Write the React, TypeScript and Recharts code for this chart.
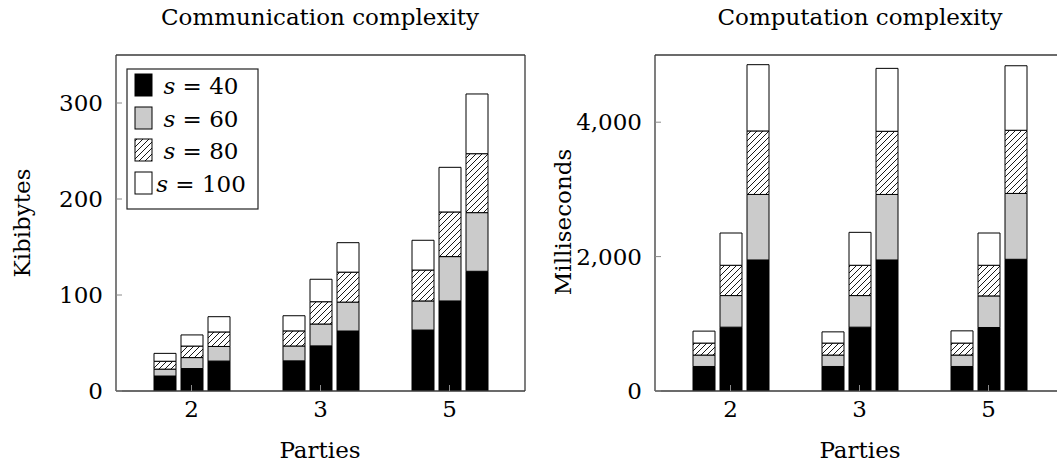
import React from 'react';
import { BarChart, Bar, XAxis, YAxis } from 'recharts';

// ---- Data ----
const parties = ['2', '3', '5'];
const sLabels = ['40', '60', '80', '100'];

// Communication complexity (Kibibytes): [party][bar]
const comm40 = [[15.6, 23.4, 31.2], [31.4, 47.0, 62.5], [63.5, 93.8, 124.7]];
const comm60 = [[22.8, 34.8, 46.4], [46.9, 69.8, 92.6], [93.8, 140.0, 185.8]];
const comm80 = [[31.0, 46.8, 61.5], [62.6, 93.0, 123.8], [126.0, 186.5, 247.2]];
const comm100 = [[39.2, 58.4, 77.4], [78.4, 116.4, 154.5], [157.0, 233.0, 309.4]];

// Computation complexity (Milliseconds): [party][bar]
const comp40 = [[365, 950, 1950], [365, 950, 1950], [365, 945, 1960]];
const comp60 = [[535, 1420, 2925], [535, 1420, 2925], [535, 1415, 2940]];
const comp80 = [[713, 1871, 3870], [713, 1871, 3865], [713, 1871, 3880]];
const comp100 = [[891, 2351, 4856], [880, 2361, 4801], [895, 2351, 4840]];

const commTicks = [0, 100, 200, 300];
const compTicks = [0, 2000, 4000];

// ---- Helpers ----
const buildRows = (levels: number[][][]) =>
  parties.map((p, i) => {
    const row: Record<string, any> = { party: p };
    for (let j = 0; j < 3; j++) {
      let prev = 0;
      for (let k = 0; k < levels.length; k++) {
        const v = levels[k][i][j];
        row[`b${j}_${k}`] = v - prev;
        prev = v;
      }
    }
    return row;
  });

const commRows = buildRows([comm40, comm60, comm80, comm100]);
const compRows = buildRows([comp40, comp60, comp80, comp100]);

const FONT = 'DejaVu Serif, Liberation Serif, serif';
const FS = 23;
const AXIS_COLOR = '#3a3a3a';
const TICK_COLOR = '#8a8a8a';

const fillFor = (k: number, hatchId: string) =>
  k === 0 ? '#000000' : k === 1 ? '#cbcbcb' : k === 2 ? `url(#${hatchId})` : '#ffffff';

const HatchDef = ({ id }: { id: string }) => (
  <pattern id={id} patternUnits="userSpaceOnUse" width="6" height="6">
    <rect x="0" y="0" width="6" height="6" fill="#ffffff" />
    <path d="M-1,1 L1,-1 M0,6 L6,0 M5,7 L7,5" stroke="#000" strokeWidth="0.9" />
  </pattern>
);

type PanelProps = {
  rows: Record<string, any>[];
  domain: [number, number];
  ticks: number[];
  yWidth: number;
  marginLeft: number;
  hatchId: string;
  fmt?: (v: number) => string;
};

const Panel = ({ rows, domain, ticks, yWidth, marginLeft, hatchId, fmt }: PanelProps) => {
  const bars: React.ReactNode[] = [];
  for (let j = 0; j < 3; j++) {
    for (let k = 0; k < 4; k++) {
      bars.push(
        <Bar
          key={`b${j}_${k}`}
          dataKey={`b${j}_${k}`}
          stackId={`st${j}`}
          xAxisId="bottom"
          yAxisId="left"
          fill={fillFor(k, hatchId)}
          stroke="#000"
          strokeWidth={1}
          isAnimationActive={false}
        />
      );
    }
  }
  const tickStyle = { fontFamily: FONT, fontSize: FS, fill: '#000' };
  return (
    <BarChart
      width={540}
      height={468}
      data={rows}
      margin={{ top: 54, right: 540 - marginLeft - yWidth - 409 - 1, bottom: 47, left: marginLeft }}
      barSize={22}
      barGap={5}
    >
      <defs>
        <HatchDef id={hatchId} />
      </defs>
      <XAxis
        xAxisId="bottom"
        dataKey="party"
        orientation="bottom"
        height={30}
        padding={{ left: 11, right: 11 }}
        tickSize={-6}
        tickMargin={16}
        axisLine={{ stroke: AXIS_COLOR, strokeWidth: 1.3 }}
        tickLine={{ stroke: TICK_COLOR, strokeWidth: 1 }}
        tick={tickStyle}
      />
      <XAxis
        xAxisId="top"
        dataKey="party"
        orientation="top"
        height={1}
        padding={{ left: 11, right: 11 }}
        tickSize={-6}
        axisLine={{ stroke: AXIS_COLOR, strokeWidth: 1.3 }}
        tickLine={{ stroke: TICK_COLOR, strokeWidth: 1 }}
        tick={false}
      />
      <YAxis
        yAxisId="left"
        orientation="left"
        width={yWidth}
        domain={domain}
        ticks={ticks}
        allowDataOverflow
        tickSize={-6}
        tickMargin={19}
        axisLine={{ stroke: AXIS_COLOR, strokeWidth: 1.3 }}
        tickLine={{ stroke: TICK_COLOR, strokeWidth: 1 }}
        tick={tickStyle}
        tickFormatter={fmt}
        interval={0}
      />
      <YAxis
        yAxisId="right"
        orientation="right"
        width={1}
        domain={domain}
        ticks={ticks}
        allowDataOverflow
        tickSize={-6}
        axisLine={{ stroke: AXIS_COLOR, strokeWidth: 1.3 }}
        tickLine={{ stroke: TICK_COLOR, strokeWidth: 1 }}
        tick={false}
      />
      {bars}
    </BarChart>
  );
};

const Swatch = ({ k, y }: { k: number; y: number }) => (
  <rect x={135} y={y} width={17} height={22} fill={fillFor(k, 'hatchLegend')} stroke="#000" strokeWidth={1} />
);

export default function App() {
  const textStyle: React.CSSProperties = { fontFamily: FONT, fontSize: FS, fill: '#000' };
  const swatchY = [74, 107, 139, 172];
  return (
    <div style={{ position: 'absolute', left: 0, top: 0, width: 1057, height: 468, overflow: 'hidden', background: '#fff' }}>
      <div style={{ position: 'absolute', left: 0, top: 0 }}>
        <Panel rows={commRows} domain={[0, 350]} ticks={commTicks} yWidth={60} marginLeft={56} hatchId="hatchComm" />
      </div>
      <div style={{ position: 'absolute', left: 540, top: 0 }}>
        <Panel
          rows={compRows}
          domain={[0, 5000]}
          ticks={compTicks}
          yWidth={70}
          marginLeft={45}
          hatchId="hatchComp"
          fmt={(v: number) => v.toLocaleString('en-US')}
        />
      </div>
      <svg width={1057} height={468} style={{ position: 'absolute', left: 0, top: 0, pointerEvents: 'none' }}>
        <defs>
          <HatchDef id="hatchLegend" />
        </defs>
        <text x={320} y={25} textAnchor="middle" style={textStyle}>Communication complexity</text>
        <text x={860} y={25} textAnchor="middle" style={textStyle}>Computation complexity</text>
        <text x={320} y={458} textAnchor="middle" style={textStyle}>Parties</text>
        <text x={860} y={458} textAnchor="middle" style={textStyle}>Parties</text>
        <text transform="translate(30,223) rotate(-90)" textAnchor="middle" style={textStyle}>Kibibytes</text>
        <text transform="translate(571,222) rotate(-90)" textAnchor="middle" style={textStyle}>Milliseconds</text>
        <rect x={127} y={69} width={131} height={140} fill="#fff" stroke="#222" strokeWidth={1.2} />
        {sLabels.map((s, k) => (
          <g key={s}>
            <Swatch k={k} y={swatchY[k]} />
            <text x={201} y={swatchY[k] + 20} textAnchor="middle" style={textStyle}>
              <tspan fontStyle="italic">s</tspan>
              {' = ' + s}
            </text>
          </g>
        ))}
      </svg>
    </div>
  );
}
